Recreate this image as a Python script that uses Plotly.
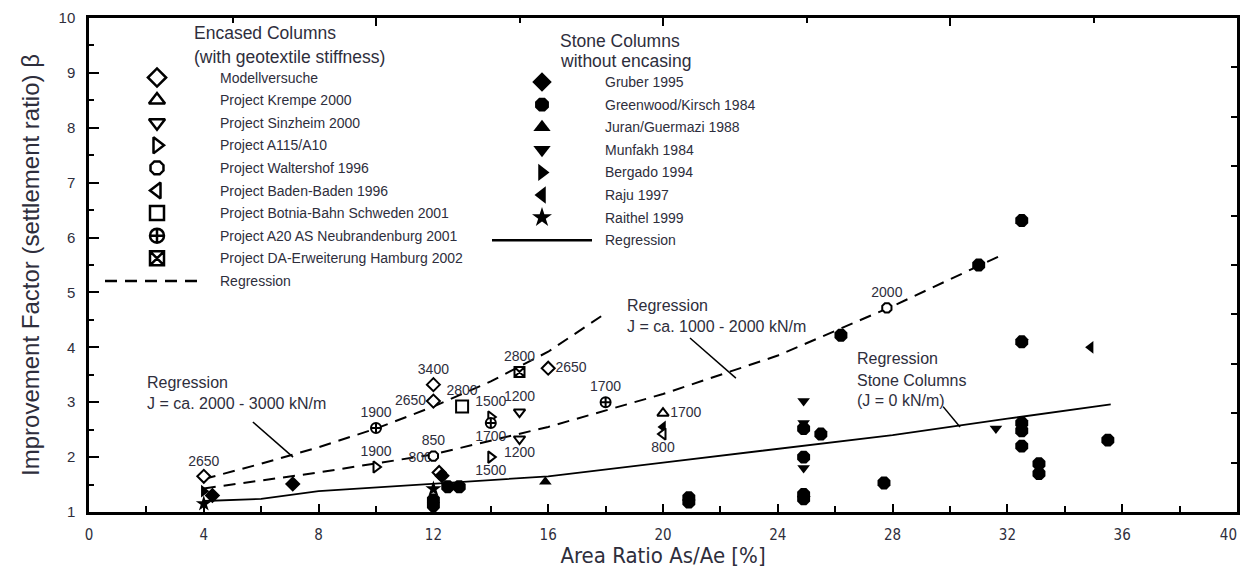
import plotly.graph_objects as go

# ---------------- data ----------------
# Encased columns (open symbols) with geotextile stiffness J [kN/m] as labels
modell_x = [4, 12, 12, 16, 12.2]
modell_y = [1.65, 3.32, 3.02, 3.62, 1.72]
modell_lbl = ["2650", "3400", "2650", "2650", "800"]

krempe_x = [20]
krempe_y = [2.8]
krempe_lbl = ["1700"]

sinz_x = [15, 15]
sinz_y = [2.82, 2.33]
sinz_lbl = ["1200", "1200"]

a115_x = [10, 14, 14]
a115_y = [1.82, 2.0, 2.73]
a115_lbl = ["1900", "1500", "1500"]

walt_x = [12, 27.8]
walt_y = [2.02, 4.72]
walt_lbl = ["850", "2000"]

baden_x = [20]
baden_y = [2.42]
baden_lbl = ["800"]

botnia_x = [13]
botnia_y = [2.92]
botnia_lbl = ["2800"]

a20_x = [10, 14, 18]
a20_y = [2.53, 2.62, 3.0]
a20_lbl = ["1900", "1700", "1700"]

da_x = [15]
da_y = [3.55]
da_lbl = ["2800"]

# Stone columns without encasing (filled symbols)
gruber_x = [4.3, 7.1, 12.3]
gruber_y = [1.3, 1.51, 1.66]

greenwood_x = [12, 12, 12.5, 12.9, 20.9, 20.9, 24.9, 25.5, 24.9, 24.9, 24.9,
               27.7, 26.2, 31.0, 32.5, 32.5, 32.5, 32.5, 32.5, 33.1, 33.1, 35.5]
greenwood_y = [1.22, 1.12, 1.46, 1.46, 1.26, 1.18, 2.52, 2.42, 2.0, 1.32, 1.24,
               1.53, 4.22, 5.5, 6.31, 4.1, 2.62, 2.48, 2.2, 1.88, 1.7, 2.31]

juran_x = [15.9]
juran_y = [1.55]

munfakh_x = [24.9, 24.9, 24.9, 31.6]
munfakh_y = [3.02, 2.62, 1.8, 2.52]

bergado_x = [4]
bergado_y = [1.38]

raju_x = [20, 34.9]
raju_y = [2.55, 4.0]

raithel_x = [4, 12]
raithel_y = [1.15, 1.42]

# Regression curves
reg_hi_x = [4, 6, 8, 10, 12, 14, 16, 18]
reg_hi_y = [1.6, 1.88, 2.18, 2.52, 2.92, 3.38, 3.92, 4.62]

reg_mid_x = [4, 8, 12, 16, 20, 24, 28, 31.8]
reg_mid_y = [1.43, 1.72, 2.05, 2.55, 3.15, 3.85, 4.75, 5.68]

reg_sc_x = [4, 6, 8, 12, 16, 20, 24, 28, 32, 35.6]
reg_sc_y = [1.2, 1.24, 1.38, 1.52, 1.65, 1.9, 2.15, 2.4, 2.7, 2.96]

x_ticks = list(range(0, 41, 4))
x_tick_text = [str(v) for v in x_ticks]
y_ticks = list(range(1, 11))

# ---------------- styling ----------------
TXT = "#2e2e3c"
FONT = "Liberation Sans, Arial, sans-serif"
NARROW = "Liberation Sans Narrow, DejaVu Sans Condensed, Arial Narrow, sans-serif"

# keep the last x tick label inside the page (padded with invisible digits)
x_tick_text[-1] = x_tick_text[-1] + "<span style='color:rgba(0,0,0,0)'>00</span>"

fig = go.Figure()

# regression lines
fig.add_trace(go.Scatter(x=reg_hi_x, y=reg_hi_y, mode="lines",
                         line=dict(color="black", width=2, dash="12px,8px"), showlegend=False))
fig.add_trace(go.Scatter(x=reg_mid_x, y=reg_mid_y, mode="lines",
                         line=dict(color="black", width=2, dash="12px,8px"), showlegend=False))
fig.add_trace(go.Scatter(x=reg_sc_x, y=reg_sc_y, mode="lines",
                         line=dict(color="black", width=1.8), showlegend=False))

def open_series(x, y, lbl, symbol, pos, size=10):
    fig.add_trace(go.Scatter(
        x=x, y=y, text=lbl, mode="markers+text", textposition=pos,
        textfont=dict(family=FONT, size=14, color=TXT),
        marker=dict(symbol=symbol, size=size, color="white",
                    line=dict(color="black", width=2)),
        showlegend=False, cliponaxis=False))

def filled_series(x, y, symbol, size=13):
    fig.add_trace(go.Scatter(
        x=x, y=y, mode="markers",
        marker=dict(symbol=symbol, size=size, color="black",
                    line=dict(color="black", width=0)),
        showlegend=False))

open_series(modell_x, modell_y, modell_lbl, "diamond",
            ["top center", "top center", "middle left", "middle right", "top left"])
open_series(krempe_x, krempe_y, krempe_lbl, "triangle-up", ["middle right"])
open_series(sinz_x, sinz_y, sinz_lbl, "triangle-down", ["top center", "bottom center"])
open_series(a115_x, a115_y, a115_lbl, "triangle-right",
            ["top center", "bottom center", "top center"])
open_series(walt_x, walt_y, walt_lbl, "octagon", ["top center", "top center"])
open_series(botnia_x, botnia_y, botnia_lbl, "square", ["top center"], size=12)
open_series(a20_x, a20_y, a20_lbl, "circle-cross",
            ["top center", "bottom center", "top center"])
open_series(da_x, da_y, da_lbl, "square-x", ["top center"])

filled_series(gruber_x, gruber_y, "diamond", 12)
filled_series(greenwood_x, greenwood_y, "octagon", 14)
filled_series(juran_x, juran_y, "triangle-up", 11)
filled_series(munfakh_x, munfakh_y, "triangle-down", 11)
filled_series(bergado_x, bergado_y, "triangle-right", 11)
filled_series(raju_x, raju_y, "triangle-left", 11)
filled_series(raithel_x, raithel_y, "star", 12)
open_series(baden_x, baden_y, baden_lbl, "triangle-left", ["bottom center"])

# dummy trace to show top / right frame axes
fig.add_trace(go.Scatter(x=[None], y=[None], xaxis="x2", yaxis="y2",
                         showlegend=False, hoverinfo="skip"))

# ---------------- hand-built legends (pixel overlay axes) ----------------
enc_items = [("Modellversuche", "diamond"),
             ("Project Krempe 2000", "triangle-up"),
             ("Project Sinzheim 2000", "triangle-down"),
             ("Project A115/A10", "triangle-right"),
             ("Project Waltershof 1996", "octagon"),
             ("Project Baden-Baden 1996", "triangle-left"),
             ("Project Botnia-Bahn Schweden 2001", "square"),
             ("Project A20 AS Neubrandenburg 2001", "circle-cross"),
             ("Project DA-Erweiterung Hamburg 2002", "square-x")]
sc_items = [("Gruber 1995", "diamond"),
            ("Greenwood/Kirsch 1984", "octagon"),
            ("Juran/Guermazi 1988", "triangle-up"),
            ("Munfakh 1984", "triangle-down"),
            ("Bergado 1994", "triangle-right"),
            ("Raju 1997", "triangle-left"),
            ("Raithel 1999", "star")]

annotations = []
shapes = []

def leg_text(x, y, text, size=14):
    annotations.append(dict(x=x, y=y, xref="x3", yref="y3", text=text, showarrow=False,
                            xanchor="left", yanchor="middle",
                            font=dict(family=FONT, size=size, color=TXT)))

L_MX, L_TX, L_Y0, STEP = 157, 218, 77.5, 22.6
for i, (name, sym) in enumerate(enc_items):
    yy = L_Y0 + i * STEP
    fig.add_trace(go.Scatter(x=[L_MX], y=[yy], xaxis="x3", yaxis="y3", mode="markers",
                             marker=dict(symbol=sym, size=14, color="white",
                                         line=dict(color="black", width=2.5)),
                             showlegend=False, hoverinfo="skip"))
    leg_text(L_TX, yy, name)
yreg = L_Y0 + len(enc_items) * STEP
fig.add_trace(go.Scatter(x=[105, 202], y=[yreg, yreg], xaxis="x3", yaxis="y3", mode="lines",
                         line=dict(color="black", width=2.5, dash="12px,8px"),
                         showlegend=False, hoverinfo="skip"))
leg_text(L_TX, yreg, "Regression")
leg_text(192, 33, "Encased Columns", 17.5)
leg_text(192, 57, "(with geotextile stiffness)", 17.5)

R_MX, R_TX, R_Y0 = 542, 603, 82
for i, (name, sym) in enumerate(sc_items):
    yy = R_Y0 + i * STEP
    fig.add_trace(go.Scatter(x=[R_MX], y=[yy], xaxis="x3", yaxis="y3", mode="markers",
                             marker=dict(symbol=sym, size=15, color="black",
                                         line=dict(width=0)),
                             showlegend=False, hoverinfo="skip"))
    leg_text(R_TX, yy, name)
yreg2 = R_Y0 + len(sc_items) * STEP
fig.add_trace(go.Scatter(x=[492, 592], y=[yreg2, yreg2], xaxis="x3", yaxis="y3", mode="lines",
                         line=dict(color="black", width=2.5),
                         showlegend=False, hoverinfo="skip"))
leg_text(R_TX, yreg2, "Regression")
leg_text(558, 41, "Stone Columns", 17.5)
leg_text(558, 61, "without encasing", 17.5)

# regression captions
for (x, y, t) in [(145, 382, "Regression"), (145, 403, "J = ca. 2000 - 3000 kN/m"),
                  (625, 305, "Regression"), (625, 326, "J = ca. 1000 - 2000 kN/m"),
                  (855, 358, "Regression"), (855, 380, "Stone Columns"),
                  (855, 400, "(J = 0 kN/m)")]:
    leg_text(x, y, t, 16)

# pointer lines (data coordinates)
for (x0, y0, x1, y1) in [(5.71, 2.64, 7.11, 2.0),
                         (20.94, 4.17, 22.54, 3.44),
                         (29.76, 2.92, 30.35, 2.55)]:
    shapes.append(dict(type="line", xref="x", yref="y", x0=x0, y0=y0, x1=x1, y1=y1,
                       line=dict(color="black", width=1.5)))

axis_common = dict(showgrid=False, zeroline=False, showline=True,
                   linecolor="black", linewidth=2.5, ticks="inside",
                   tickcolor="black", tickwidth=2, automargin=False)

fig.update_layout(
    width=1242, height=568,
    margin=dict(l=89, r=5, t=18, b=56, autoexpand=False),
    plot_bgcolor="white", paper_bgcolor="white",
    showlegend=False,
    xaxis=dict(range=[0, 40], tickvals=x_ticks, ticktext=x_tick_text, ticklen=8,
               minor=dict(dtick=2, ticks="inside", ticklen=6, tickwidth=2, tickcolor="black"),
               tickfont=dict(family=NARROW, size=15, color=TXT),
               ticklabelstandoff=7, ticklabeloverflow="allow",
               title=dict(text="Area Ratio As/Ae [%]", standoff=6,
                          font=dict(family=NARROW, size=22, color=TXT)),
               **axis_common),
    yaxis=dict(range=[1, 10], tickvals=y_ticks, ticklen=10,
               minor=dict(dtick=0.5, ticks="inside", ticklen=5, tickwidth=2, tickcolor="black"),
               tickfont=dict(family=FONT, size=15, color=TXT),
               ticklabelstandoff=8,
               title=dict(text="Improvement Factor (settlement ratio) β", standoff=13,
                          font=dict(family=FONT, size=24, color=TXT)),
               **axis_common),
    xaxis2=dict(overlaying="x", side="top", anchor="y", range=[0, 40], dtick=10,
                ticklen=8, showticklabels=False,
                minor=dict(dtick=5, ticks="inside", ticklen=5, tickwidth=2, tickcolor="black"),
                **axis_common),
    yaxis2=dict(overlaying="y", side="right", anchor="x", range=[0, 10], dtick=1,
                ticklen=6, showticklabels=False, **axis_common),
    xaxis3=dict(overlaying="x", range=[89, 1237], visible=False),
    yaxis3=dict(overlaying="y", range=[512, 18], visible=False),
    annotations=annotations,
    shapes=shapes,
)

# remove the browser's default 8px body margin so the figure sits at the page corner
fig.write_html("out.html",
               config={"displayModeBar": False},
               post_script="document.body.style.margin='0px';document.body.style.overflow='hidden';")
